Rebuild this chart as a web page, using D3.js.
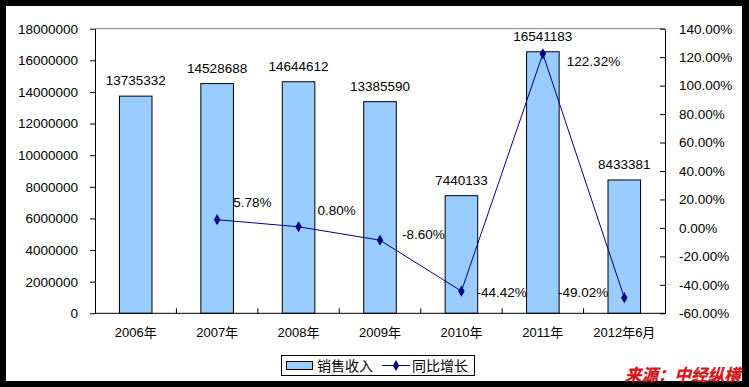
<!DOCTYPE html>
<html>
<head>
<meta charset="utf-8">
<script src="https://cdn.jsdelivr.net/npm/d3@7/dist/d3.min.js"></script>
<style>
  html, body { margin: 0; padding: 0; background: #000; }
  svg { display: block; }
  text { font-family: "Liberation Sans", Arial, "Noto Sans CJK SC", sans-serif; }
</style>
</head>
<body>
<svg id="chart" width="749" height="387"></svg>
<script>
// ---- data ----
const categories = ["2006年", "2007年", "2008年", "2009年", "2010年", "2011年", "2012年6月"];
const salesRevenue = [13735332, 14528688, 14644612, 13385590, 7440133, 16541183, 8433381];
const yoyGrowth = [null, 5.78, 0.80, -8.60, -44.42, 122.32, -49.02];
const leftTicks = [0, 2000000, 4000000, 6000000, 8000000, 10000000, 12000000, 14000000, 16000000, 18000000];
const rightTicks = [-60, -40, -20, 0, 20, 40, 60, 80, 100, 120, 140];
const seriesNames = ["销售收入", "同比增长"];
const sourceText = "来源：中经纵横";

// label placement for growth labels (dx, dy, anchor)
const growthLabelPlacement = [
  null,
  {dx: 16, dy: -17, anchor: "start"},
  {dx: 19, dy: -17, anchor: "start"},
  {dx: 22, dy: -6, anchor: "start"},
  {dx: 15, dy: 1, anchor: "start"},
  {dx: 24, dy: 7, anchor: "start"},
  {dx: -16, dy: -5, anchor: "end"}
];

const svg = d3.select("#chart");
const W = 749, H = 387;
const plot = {left: 95, right: 665, top: 28.7, bottom: 313.3};
const fontSize = 13.5;
const barFill = "#99CCFF";
const lineColor = "#000080";
const locale = d3.formatLocale({decimal: ".", thousands: ",", grouping: [3], currency: ["", ""], minus: "-"});
const pct = d => locale.format(".2f")(d) + "%";

// background frame
svg.append("rect").attr("x", 0).attr("y", 0).attr("width", W).attr("height", H).attr("fill", "#000");
svg.append("rect").attr("x", 6).attr("y", 6).attr("width", 736).attr("height", 375).attr("fill", "#fff");

// scales
const x = d3.scaleBand().domain(categories).range([plot.left, plot.right]).paddingInner(0.6).paddingOuter(0.3);
const yL = d3.scaleLinear().domain([0, 18000000]).range([plot.bottom, plot.top]);
const yR = d3.scaleLinear().domain([-60, 140]).range([plot.bottom, plot.top]);

// plot top border (gray)
svg.append("line").attr("x1", plot.left).attr("x2", plot.right)
  .attr("y1", plot.top).attr("y2", plot.top).attr("stroke", "#808080").attr("stroke-width", 1);

// bars
svg.append("g").selectAll("rect").data(salesRevenue).join("rect")
  .attr("x", (d, i) => x(categories[i]))
  .attr("y", d => yL(d))
  .attr("width", x.bandwidth())
  .attr("height", d => yL(0) - yL(d))
  .attr("fill", barFill)
  .attr("stroke", "#000")
  .attr("stroke-width", 1);

// left axis
const gL = svg.append("g").attr("transform", `translate(${plot.left},0)`)
  .call(d3.axisLeft(yL).tickValues(leftTicks).tickSize(5).tickPadding(12).tickFormat(d3.format("d")).tickSizeOuter(0));
gL.select(".domain").attr("stroke", "#000");
gL.selectAll(".tick line").attr("stroke", "#000");
gL.selectAll("text").attr("font-size", fontSize).attr("fill", "#000")
  .style("font-family", '"Liberation Sans", Arial, sans-serif');

// right axis (ticks inward)
const gR = svg.append("g").attr("transform", `translate(${plot.right},0)`)
  .call(d3.axisRight(yR).tickValues(rightTicks).tickSize(-5).tickPadding(14).tickFormat(pct).tickSizeOuter(0));
gR.select(".domain").attr("stroke", "#000");
gR.selectAll(".tick line").attr("stroke", "#000");
gR.selectAll("text").attr("font-size", fontSize).attr("fill", "#000")
  .style("font-family", '"Liberation Sans", Arial, sans-serif');

// bottom axis
const gB = svg.append("g").attr("transform", `translate(0,${plot.bottom})`)
  .call(d3.axisBottom(x).tickSize(0).tickPadding(14));
gB.select(".domain").attr("stroke", "#000").attr("d", `M${plot.left},0H${plot.right}`);
gB.selectAll("text").attr("font-size", 13).attr("fill", "#000");
// category boundary ticks (inward)
const bounds = categories.slice(1).map(c => x(c) - x.step() * x.paddingInner() / 2);
gB.selectAll(".bt").data(bounds).join("line")
  .attr("x1", d => d).attr("x2", d => d).attr("y1", 0).attr("y2", -5).attr("stroke", "#000");

// bar labels
svg.append("g").selectAll("text").data(salesRevenue).join("text")
  .attr("x", (d, i) => x(categories[i]) + x.bandwidth() / 2)
  .attr("y", d => yL(d) - 15.5)
  .attr("dy", "0.35em")
  .attr("text-anchor", "middle")
  .attr("font-size", fontSize)
  .attr("fill", "#000")
  .text(d => d);

// growth line
const pts = yoyGrowth.map((v, i) => ({v, i})).filter(p => p.v !== null);
const cx = i => x(categories[i]) + x.bandwidth() / 2;
svg.append("path")
  .datum(pts)
  .attr("fill", "none")
  .attr("stroke", lineColor)
  .attr("stroke-width", 1)
  .attr("d", d3.line().x(p => cx(p.i)).y(p => yR(p.v)));

const diamond = d3.symbol().type(d3.symbolDiamond).size(36);
svg.append("g").selectAll("path").data(pts).join("path")
  .attr("transform", p => `translate(${cx(p.i)},${yR(p.v)})`)
  .attr("d", diamond)
  .attr("fill", lineColor);

svg.append("g").selectAll("text").data(pts).join("text")
  .attr("x", p => cx(p.i) + growthLabelPlacement[p.i].dx)
  .attr("y", p => yR(p.v) + growthLabelPlacement[p.i].dy)
  .attr("dy", "0.35em")
  .attr("text-anchor", p => growthLabelPlacement[p.i].anchor)
  .attr("font-size", fontSize)
  .attr("fill", "#000")
  .text(p => pct(p.v));

// legend
const lg = svg.append("g");
lg.append("rect").attr("x", 281.5).attr("y", 355.5).attr("width", 193).attr("height", 20)
  .attr("fill", "#fff").attr("stroke", "#000").attr("stroke-width", 1);
lg.append("rect").attr("x", 286.5).attr("y", 361.5).attr("width", 26).attr("height", 8)
  .attr("fill", barFill).attr("stroke", "#000").attr("stroke-width", 1);
lg.append("text").attr("x", 317).attr("y", 366).attr("dy", "0.35em")
  .attr("font-size", 14).attr("fill", "#000")
  .style("font-family", '"Noto Sans CJK SC", sans-serif').text(seriesNames[0]);
lg.append("line").attr("x1", 382).attr("x2", 410).attr("y1", 365.5).attr("y2", 365.5)
  .attr("stroke", lineColor).attr("stroke-width", 1);
lg.append("path").attr("transform", "translate(396,365.5)").attr("d", diamond).attr("fill", lineColor);
lg.append("text").attr("x", 412).attr("y", 366).attr("dy", "0.35em")
  .attr("font-size", 14).attr("fill", "#000")
  .style("font-family", '"Noto Sans CJK SC", sans-serif').text(seriesNames[1]);

// source
svg.append("text").attr("x", 625).attr("y", 381)
  .attr("font-size", 16.5).attr("font-weight", "bold").attr("font-style", "italic")
  .attr("fill", "#e8141c").attr("stroke", "#700").attr("stroke-width", 0.25)
  .style("font-family", '"Noto Sans CJK SC", sans-serif')
  .text(sourceText);

// right border overlay
svg.append("rect").attr("x", 742).attr("y", 0).attr("width", 7).attr("height", H).attr("fill", "#000");
</script>
</body>
</html>
